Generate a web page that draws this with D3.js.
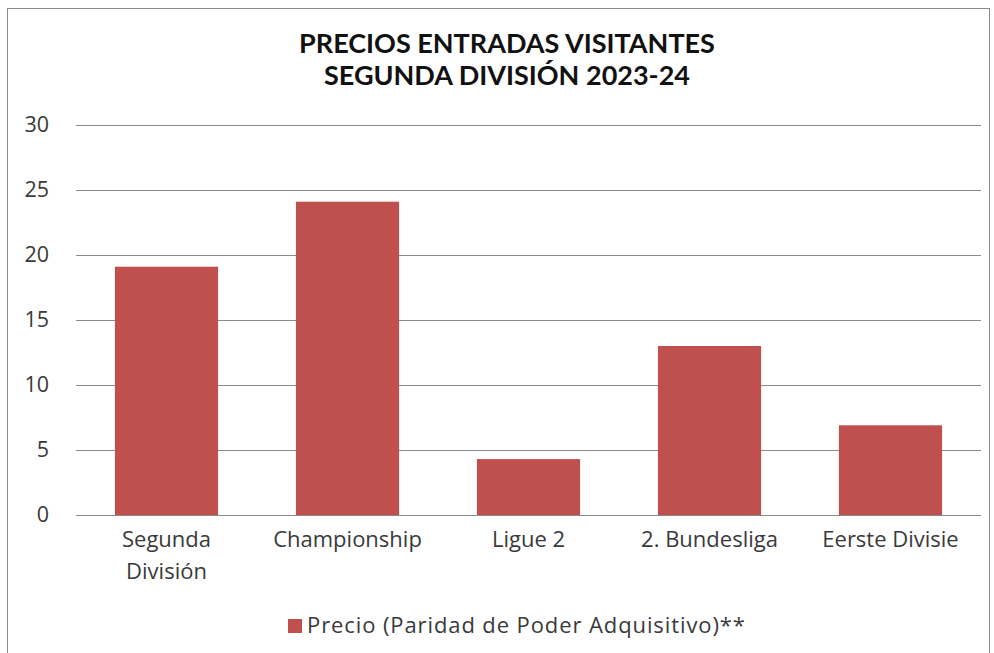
<!DOCTYPE html>
<html>
<head>
<meta charset="utf-8">
<script src="https://cdn.jsdelivr.net/npm/d3@7"></script>
<style>
  body { margin: 0; background: #fff; }
  svg { display: block; }
</style>
</head>
<body>
<svg id="chart"></svg>
<script>
// data
var ligas = ["Segunda\nDivisión", "Championship", "Ligue 2", "2. Bundesliga", "Eerste Divisie"];
var precios = [19.1, 24.1, 4.3, 13.0, 6.9];
var yTicks = [0, 5, 10, 15, 20, 25, 30];
var titulo = ["PRECIOS ENTRADAS VISITANTES", "SEGUNDA DIVISIÓN 2023-24"];
var serieNombre = "Precio (Paridad de Poder Adquisitivo)**";

var width = 994, height = 653;
var margin = { top: 125, right: 13, bottom: 138, left: 76 };
var barColor = "#C0504D";
var textColor = "#3a3a3a";

var svg = d3.select("#chart")
    .attr("width", width)
    .attr("height", height);

// chart frame
svg.append("rect")
    .attr("x", 7.5).attr("y", 8.5)
    .attr("width", 982).attr("height", 660)
    .attr("fill", "none")
    .attr("stroke", "#8c8c8c");

var x = d3.scaleBand()
    .domain(ligas)
    .range([margin.left, width - margin.right])
    .paddingInner(0.43)
    .paddingOuter(0.215);

var y = d3.scaleLinear()
    .domain([0, 30])
    .range([height - margin.bottom, margin.top]);

// gridlines
svg.append("g")
    .attr("class", "grid")
    .selectAll("line")
    .data(yTicks)
    .enter().append("line")
    .attr("x1", margin.left)
    .attr("x2", width - margin.right)
    .attr("y1", function (d) { return Math.round(y(d)) + 0.5; })
    .attr("y2", function (d) { return Math.round(y(d)) + 0.5; })
    .attr("stroke", "#8a8a8a")
    .attr("stroke-width", 1.2);

// y axis labels
var yAxis = d3.axisLeft(y).tickValues(yTicks).tickSize(0).tickPadding(27);
svg.append("g")
    .attr("transform", "translate(" + margin.left + ",0)")
    .call(yAxis)
    .call(function (g) { g.select(".domain").remove(); })
    .selectAll("text")
    .attr("font-family", "'Open Sans', sans-serif")
    .attr("font-size", 21.5)
    .attr("fill", textColor);

// bars
svg.append("g")
    .selectAll("rect")
    .data(precios)
    .enter().append("rect")
    .attr("x", function (d, i) { return x(ligas[i]); })
    .attr("y", function (d) { return y(d); })
    .attr("width", x.bandwidth())
    .attr("height", function (d) { return y(0) - y(d); })
    .attr("fill", barColor);

// x axis labels (multi-line)
var xAxis = d3.axisBottom(x).tickSize(0).tickPadding(0).tickFormat("");
var xg = svg.append("g")
    .attr("transform", "translate(0," + y(0) + ")")
    .call(xAxis);
xg.select(".domain").remove();
xg.selectAll(".tick").each(function (d) {
    var t = d3.select(this).append("text")
        .attr("text-anchor", "middle")
        .attr("font-family", "'Open Sans', sans-serif")
        .attr("font-size", 22)
        .attr("fill", textColor);
    d.split("\n").forEach(function (line, k) {
        t.append("tspan")
            .attr("x", 0)
            .attr("y", 32 + k * 32)
            .text(line);
    });
});

// title
svg.append("g")
    .selectAll("text")
    .data(titulo)
    .enter().append("text")
    .attr("x", 507)
    .attr("y", function (d, i) { return 53 + i * 32; })
    .attr("text-anchor", "middle")
    .attr("font-family", "Lato, sans-serif")
    .attr("font-weight", "bold")
    .attr("font-size", 27)
    .attr("fill", "#111")
    .text(function (d) { return d; });

// legend
var legend = svg.append("g").attr("transform", "translate(288,619)");
legend.append("rect")
    .attr("width", 14).attr("height", 14)
    .attr("fill", barColor);
legend.append("text")
    .attr("x", 19)
    .attr("y", 14)
    .attr("font-family", "'Open Sans', sans-serif")
    .attr("font-size", 22)
    .attr("letter-spacing", 0.9)
    .attr("fill", textColor)
    .text(serieNombre);
</script>
</body>
</html>
